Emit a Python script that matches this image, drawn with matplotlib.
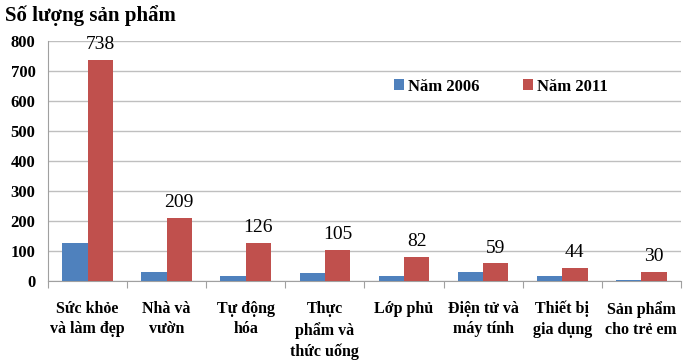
import matplotlib.pyplot as plt
import numpy as np

plt.rcParams['font.family'] = ['Liberation Serif', 'DejaVu Serif']

categories = ['Sức khỏe\nvà làm đẹp', 'Nhà và\nvườn', 'Tự động\nhóa', 'Thực\nphẩm và\nthức uống',
              'Lớp phủ', 'Điện tử và\nmáy tính', 'Thiết bị\ngia dụng', 'Sản phẩm\ncho trẻ em']
nam_2006 = [127, 30, 16, 28, 16, 31, 16, 5]
nam_2011 = [738, 209, 126, 105, 82, 59, 44, 30]

blue, red = '#4F81BD', '#C0504D'

fig = plt.figure(figsize=(6.85, 3.6), dpi=100)
ax = fig.add_axes([0.070, 0.219, 0.924, 0.667])

x = np.arange(len(categories))
w = 0.32
ax.bar(x - w / 2, nam_2006, w, color=blue, label='Năm 2006', zorder=3)
bars = ax.bar(x + w / 2, nam_2011, w, color=red, label='Năm 2011', zorder=3)

for b, v in zip(bars, nam_2011):
    ax.annotate(str(v), (b.get_x() + b.get_width() / 2, v), xytext=(0, 5),
                textcoords='offset points', ha='center', va='bottom', fontsize=14)

ax.set_xlim(-0.5, len(categories) - 0.5)
ax.set_ylim(0, 800)
ax.set_yticks(range(0, 801, 100))
ax.grid(axis='y', color='#BFBFBF', linewidth=1, zorder=0)
ax.set_axisbelow(True)

for s in ['top', 'right']:
    ax.spines[s].set_visible(False)
ax.spines['left'].set_color('#A0A0A0')
ax.spines['bottom'].set_color('#A0A0A0')

ax.set_xticks(np.arange(-0.5, len(categories), 1), minor=False)
ax.set_xticklabels([])
ax.tick_params(axis='x', length=5, color='#A0A0A0')
ax.set_xticks(x, minor=True)
ax.set_xticklabels(categories, minor=True, fontsize=11.5, fontweight='bold', va='top',
                   linespacing=1.4)
ax.tick_params(axis='x', which='minor', length=0, pad=14)
ax.tick_params(axis='y', length=0, labelsize=12, pad=9)
for t in ax.get_yticklabels():
    t.set_fontweight('bold')

fig.text(0.007, 0.985, 'Số lượng sản phẩm', fontsize=15, fontweight='bold', va='top', ha='left')

leg = ax.legend(loc='center', bbox_to_anchor=(0.715, 0.81), ncol=2, frameon=False,
                prop={'size': 12, 'weight': 'bold'}, handlelength=0.6, handleheight=0.6,
                handletextpad=0.25, columnspacing=2.6)

fig.savefig('out.png', dpi=100)
